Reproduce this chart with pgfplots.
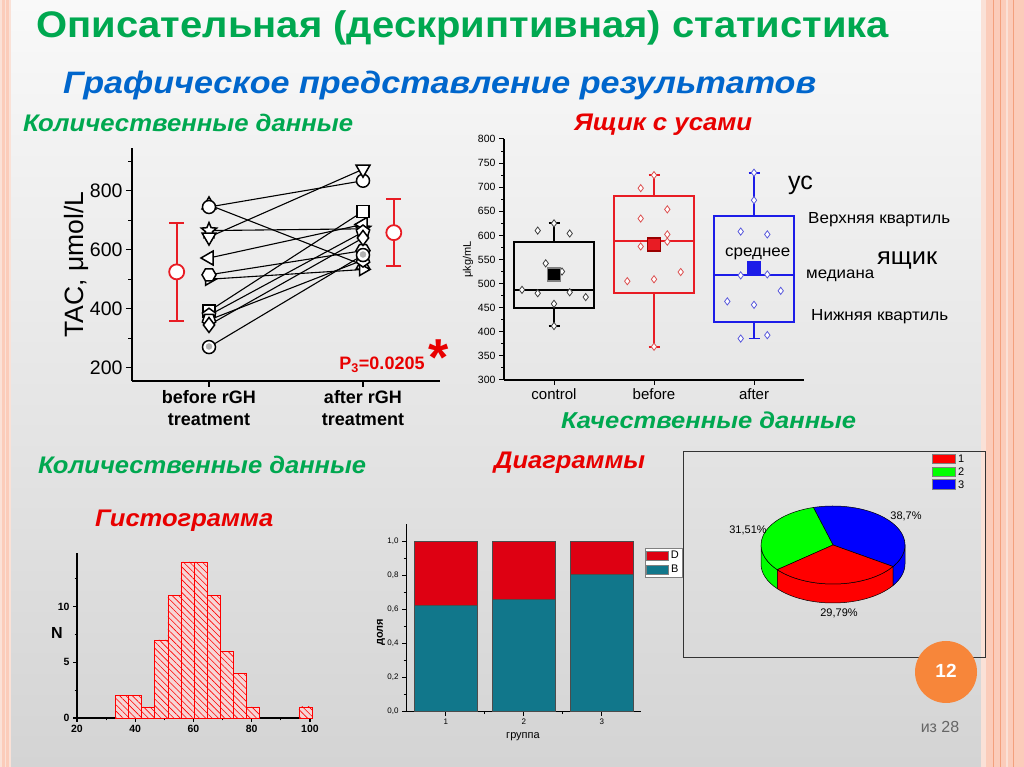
\documentclass[border=0pt]{standalone}
\usepackage{fontspec}
\setmainfont{Liberation Sans}
\usepackage{graphicx}
\usepackage{pgfplots}
\pgfplotsset{compat=1.18}
\usetikzlibrary{patterns.meta}

\definecolor{tgreen}{RGB}{0,168,80}
\definecolor{tblue}{RGB}{0,102,204}
\definecolor{tred}{RGB}{232,0,0}
\definecolor{bxred}{RGB}{232,28,36}
\definecolor{bxblue}{RGB}{28,28,232}
\definecolor{ptred}{RGB}{220,80,80}
\definecolor{ptblue}{RGB}{90,90,220}
\definecolor{barteal}{RGB}{17,119,139}
\definecolor{barred}{RGB}{222,0,18}
\definecolor{hpink}{RGB}{246,214,214}
\definecolor{salm}{RGB}{251,204,186}
\definecolor{salml}{RGB}{250,225,215}
\definecolor{salmd}{RGB}{243,160,125}
\definecolor{orng}{RGB}{247,134,58}
\definecolor{bgtop}{RGB}{249,249,249}
\definecolor{bgbot}{RGB}{212,212,212}
\definecolor{pgreen}{RGB}{0,255,0}
\definecolor{pred}{RGB}{255,0,0}
\definecolor{pblue}{RGB}{0,0,255}

\newsavebox\fitbox
\newcommand\fitto[2]{\sbox\fitbox{#2}\pgfmathsetmacro\fitr{#1/\the\wd\fitbox}\scalebox{\fitr}[1]{\usebox\fitbox}}
\newcommand\fs[1]{\fontsize{#1}{#1}\selectfont}

\pgfdeclareplotmark{ostar}{%
 \pgfpathmoveto{\pgfpointpolar{90}{\pgfplotmarksize}}%
 \pgfpathlineto{\pgfpointpolar{126}{0.45\pgfplotmarksize}}%
 \pgfpathlineto{\pgfpointpolar{162}{\pgfplotmarksize}}%
 \pgfpathlineto{\pgfpointpolar{198}{0.45\pgfplotmarksize}}%
 \pgfpathlineto{\pgfpointpolar{234}{\pgfplotmarksize}}%
 \pgfpathlineto{\pgfpointpolar{270}{0.45\pgfplotmarksize}}%
 \pgfpathlineto{\pgfpointpolar{306}{\pgfplotmarksize}}%
 \pgfpathlineto{\pgfpointpolar{342}{0.45\pgfplotmarksize}}%
 \pgfpathlineto{\pgfpointpolar{18}{\pgfplotmarksize}}%
 \pgfpathlineto{\pgfpointpolar{54}{0.45\pgfplotmarksize}}%
 \pgfpathclose\pgfusepathqfillstroke}
\pgfdeclareplotmark{hexa}{%
 \pgfpathmoveto{\pgfpointpolar{0}{\pgfplotmarksize}}%
 \pgfpathlineto{\pgfpointpolar{60}{\pgfplotmarksize}}%
 \pgfpathlineto{\pgfpointpolar{120}{\pgfplotmarksize}}%
 \pgfpathlineto{\pgfpointpolar{180}{\pgfplotmarksize}}%
 \pgfpathlineto{\pgfpointpolar{240}{\pgfplotmarksize}}%
 \pgfpathlineto{\pgfpointpolar{300}{\pgfplotmarksize}}%
 \pgfpathclose\pgfusepathqfillstroke}

\begin{document}
\begin{tikzpicture}
\begin{scope}[x=1pt,y=1pt]
\useasboundingbox (0,0) rectangle (1024,767);
\shade[top color=bgtop, bottom color=bgbot] (0,0) rectangle (1024,767);
\fill[salml] (0,0) rectangle (11,767);
\fill[salm] (2,0) rectangle (4.5,767);
\fill[salm] (6,0) rectangle (9,767);
\fill[salm] (981,0) rectangle (1024,767);
\fill[salml] (981,0) rectangle (986,767);
\draw[salmd, line width=1pt] (993,0) -- (993,767);
\draw[salmd, line width=0.6pt] (1000,0) -- (1000,767);
\draw[salml, line width=2pt] (1007,0) -- (1007,767);
\draw[salmd, line width=0.5pt] (1013,0) -- (1013,767);
\node[anchor=base west, inner sep=0pt, text=tgreen, font=\fs{37}\bfseries] at (36,729) {\fitto{853}{Описательная (дескриптивная) статистика}};
\node[anchor=base west, inner sep=0pt, text=tblue, font=\fs{31}\bfseries\itshape] at (63,673) {\fitto{753}{Графическое представление результатов}};
\node[anchor=base west, inner sep=0pt, text=tgreen, font=\fs{24}\bfseries\itshape] at (23,635) {\fitto{330}{Количественные данные}};
\node[anchor=base west, inner sep=0pt, text=tred, font=\fs{24}\bfseries\itshape] at (574,636) {\fitto{178}{Ящик с усами}};
\node[anchor=base west, inner sep=0pt, text=tgreen, font=\fs{23}\bfseries\itshape] at (561,338) {\fitto{295}{Качественные данные}};
\node[anchor=base west, inner sep=0pt, text=tgreen, font=\fs{24}\bfseries\itshape] at (38,293) {\fitto{328}{Количественные данные}};
\node[anchor=base west, inner sep=0pt, text=tred, font=\fs{24}\bfseries\itshape] at (494,298) {\fitto{151}{Диаграммы}};
\node[anchor=base west, inner sep=0pt, text=tred, font=\fs{24}\bfseries\itshape] at (95,240) {\fitto{178}{Гистограмма}};
\end{scope}

% ---------- paired plot ----------
\begin{axis}[at={(132pt,386pt)}, anchor=south west, scale only axis, width=308pt, height=233pt,
 xmin=0.5, xmax=2.5, ymin=155, ymax=945,
 axis lines*=left, axis line style={line width=1.4pt},
 xtick={1,2}, xticklabels={{before rGH\\treatment},{after rGH\\treatment}},
 xticklabel style={font=\fontsize{18}{22}\selectfont\bfseries, align=center},
 ytick={200,400,600,800}, minor ytick={300,500,700,900},
 tick align=outside, major tick length=6pt, minor tick length=4pt,
 tick style={black, line width=1.3pt},
 yticklabel style={font=\fs{19.5}},
 /pgf/number format/assume math mode=true,
 ylabel={TAC, μmol/L}, ylabel style={font=\fs{26.5}, at={(axis description cs:-0.18,0.5)}, anchor=center},
 clip=false]
\addplot[black, line width=1.1pt, mark=triangle*, mark size=8pt, mark options={fill=white, line width=1.5pt}] coordinates {(1,752) (2,548)};
\addplot[black, line width=1.1pt, mark=*, mark size=6.5pt, mark options={fill=white, line width=1.5pt}] coordinates {(1,745) (2,834)};
\addplot[black, line width=1.1pt, mark=ostar, mark size=8pt, mark options={fill=white, line width=1.5pt}] coordinates {(1,665) (2,671)};
\addplot[black, line width=1.1pt, mark=triangle*, mark size=8pt, mark options={fill=white, line width=1.5pt, rotate=180}] coordinates {(1,643) (2,873)};
\addplot[black, line width=1.1pt, mark=triangle*, mark size=8pt, mark options={fill=white, line width=1.5pt, rotate=90}] coordinates {(1,572) (2,686)};
\addplot[black, line width=1.1pt, mark=triangle*, mark size=7pt, mark options={fill=white, line width=1.5pt, rotate=-90}] coordinates {(1,500) (2,533)};
\addplot[black, line width=1.1pt, mark=hexa, mark size=7pt, mark options={fill=white, line width=1.5pt}] coordinates {(1,515) (2,597)};
\addplot[black, line width=1.1pt, mark=square*, mark size=6pt, mark options={fill=white, line width=1.5pt}] coordinates {(1,392) (2,730)};
\addplot[black, line width=1.1pt, mark=pentagon*, mark size=7pt, mark options={fill=white, line width=1.5pt}] coordinates {(1,378) (2,660)};
\addplot[black, line width=1.1pt, mark=pentagon*, mark size=7pt, mark options={fill=white, line width=1.5pt, rotate=180}] coordinates {(1,362) (2,565)};
\addplot[black, line width=1.1pt, mark=diamond*, mark size=7.5pt, mark options={fill=white, line width=1.5pt}] coordinates {(1,345) (2,640)};
\addplot[black, line width=1.1pt, mark=*, mark size=6.5pt, mark options={fill=white, line width=1.5pt}] coordinates {(1,270) (2,582)};
\addplot[only marks, mark=*, mark size=3pt, mark options={fill=gray!60, draw=gray!60}] coordinates {(1,272) (2,584)};
\addplot[bxred, draw=none, mark=none, error bars/.cd, y dir=both, y explicit,
  error bar style={line width=2pt, bxred}, error mark options={rotate=90, mark size=7.5pt, line width=2pt, bxred}]
  coordinates {(0.79,525) +- (0,165) (2.2,658) +- (0,114)};
\addplot[only marks, mark=*, mark size=7.5pt, mark options={fill=white, draw=bxred, line width=1.8pt}] coordinates {(0.79,525) (2.2,658)};
\end{axis}

% ---------- box plot ----------
\begin{axis}[at={(504pt,387pt)}, anchor=south west, scale only axis, width=300pt, height=241pt,
 xmin=0.5, xmax=3.5, ymin=300, ymax=800,
 axis lines*=left, axis line style={line width=1.3pt},
 xtick={1,2,3}, xticklabels={control,before,after}, xticklabel style={font=\fs{15}},
 ytick={300,350,400,450,500,550,600,650,700,750,800}, minor ytick={325,375,425,475,525,575,625,675,725,775},
 yticklabel style={font=\fs{10.5}},
 tick align=outside, major tick length=5pt, minor tick length=3pt, tick style={black, line width=1pt},
 ylabel={μkg/mL}, ylabel style={font=\fs{11}, at={(axis description cs:-0.12,0.5)}, anchor=center},
 /pgf/number format/assume math mode=true, unbounded coords=jump, clip=false]
\addplot[black, line width=1.8pt, mark=none] coordinates {
 (1,449) (1.4,449) (1.4,587) (0.6,587) (0.6,449) (1,449) (nan,nan)
 (0.6,487) (1.4,487) (nan,nan) (1,587) (1,625) (nan,nan) (1,449) (1,412) (nan,nan)
 (0.945,625) (1.055,625) (nan,nan) (0.945,412) (1.055,412)};
\addplot[bxred, line width=1.8pt, mark=none] coordinates {
 (2,480) (2.4,480) (2.4,682) (1.6,682) (1.6,480) (2,480) (nan,nan)
 (1.6,588) (2.4,588) (nan,nan) (2,682) (2,725) (nan,nan) (2,480) (2,369) (nan,nan)
 (1.945,725) (2.055,725) (nan,nan) (1.945,369) (2.055,369)};
\addplot[bxblue, line width=1.8pt, mark=none] coordinates {
 (3,420) (3.4,420) (3.4,641) (2.6,641) (2.6,420) (3,420) (nan,nan)
 (2.6,517) (3.4,517) (nan,nan) (3,641) (3,730) (nan,nan) (3,420) (3,386) (nan,nan)
 (2.945,730) (3.055,730) (nan,nan) (2.945,386) (3.055,386)};
\addplot[only marks, mark=diamond*, mark size=3.6pt, mark options={fill=white, draw=black!75, line width=0.8pt}] coordinates {
(0.837,610) (1.157,604) (0.917,542) (1.08,525) (0.68,487) (0.837,480) (1.157,482) (1.317,472) (1,458) (1,625) (1,412)};
\addplot[only marks, mark=diamond*, mark size=3.6pt, mark options={fill=white, draw=ptred, line width=0.8pt}] coordinates {
(1.867,698) (1.867,635) (2.133,654) (2.133,602) (2.133,587) (1.867,577) (2.267,524) (1.733,505) (2,509) (2,725) (2,369)};
\addplot[only marks, mark=diamond*, mark size=3.6pt, mark options={fill=white, draw=ptblue, line width=0.8pt}] coordinates {
(3,730) (3,673) (2.867,608) (3.133,602) (2.867,517) (3.133,519) (3.267,485) (2.733,463) (3,456) (2.867,386) (3.133,393)};
\addplot[only marks, mark=square*, mark size=6.5pt, mark options={fill=black, draw=gray, line width=1.2pt}] coordinates {(1,519)};
\addplot[only marks, mark=square*, mark size=6.5pt, mark options={fill=bxred, draw=red!60!black, line width=1.2pt}] coordinates {(2,581)};
\addplot[only marks, mark=square*, mark size=6.5pt, mark options={fill=bxblue, draw=bxblue, line width=1.2pt}] coordinates {(3,533)};
\end{axis}

% ---------- histogram ----------
\begin{axis}[at={(77pt,49pt)}, anchor=south west, scale only axis, width=235pt, height=165pt,
 xmin=20, xmax=100.7, ymin=0, ymax=14.8,
 axis lines*=left, axis line style={line width=1.8pt},
 xtick={20,40,60,80,100}, minor xtick={30,50,70,90}, ytick={0,5,10}, minor ytick={2.5,7.5,12.5},
 tick align=outside, major tick length=4pt, minor tick length=2.5pt, tick style={black, line width=1.2pt},
 ticklabel style={font=\fs{10.5}\bfseries},
 /pgf/number format/assume math mode=true,
 ylabel={N}, ylabel style={rotate=-90, font=\fs{16}\bfseries, at={(axis description cs:-0.086,0.515)}, anchor=center},
 clip=false]
\addplot[ybar interval, draw=red, line width=0.6pt, fill=hpink,
  postaction={pattern={Lines[angle=-45,distance=4.5pt,line width=0.6pt]}, pattern color=red}]
  coordinates {(33.2,2) (37.7,2) (42.2,1) (46.7,7) (51.2,11) (55.7,14) (60.2,14) (64.7,11) (69.2,6) (73.7,4) (78.2,1) (82.7,1)};
\addplot[ybar interval, draw=red, line width=0.6pt, fill=hpink,
  postaction={pattern={Lines[angle=-45,distance=4.5pt,line width=0.6pt]}, pattern color=red}]
  coordinates {(96.2,1) (100.7,1)};
\end{axis}

% ---------- stacked bars ----------
\begin{axis}[at={(406pt,55.3pt)}, anchor=south west, scale only axis, width=234.7pt, height=187.7pt,
 xmin=0.49, xmax=3.5, ymin=0, ymax=1.1, ybar stacked, bar width=0.8,
 axis lines*=left, axis line style={line width=1pt},
 xtick={1,2,3}, minor xtick={1.5,2.5}, ytick={0,0.2,0.4,0.6,0.8,1}, minor ytick={0.1,0.3,0.5,0.7,0.9},
 tick align=outside, major tick length=4pt, minor tick length=2.5pt, tick style={black, line width=0.8pt},
 ticklabel style={font=\fs{8}},
 yticklabel style={/pgf/number format/fixed, /pgf/number format/fixed zerofill, /pgf/number format/precision=1, /pgf/number format/use comma},
 /pgf/number format/assume math mode=true,
 xlabel={группа}, xlabel style={font=\fs{11}, at={(axis description cs:0.4985,-0.135)}, anchor=center},
 ylabel={доля}, ylabel style={font=\fs{11}\bfseries, at={(axis description cs:-0.107,0.424)}, anchor=center},
 legend style={at={(axis description cs:1.018,0.872)}, anchor=north west, draw=gray, font=\fs{11}, inner sep=1pt, row sep=1pt},
 legend image code/.code={\draw[#1, draw=gray] (0pt,-4.5pt) rectangle (22pt,4.5pt);},
 reverse legend, clip=false]
\addplot[fill=barteal, draw=black!70, line width=0.7pt] coordinates {(1,0.621) (2,0.658) (3,0.805)};
\addlegendentry{B}
\addplot[fill=barred, draw=black!70, line width=0.7pt] coordinates {(1,0.379) (2,0.342) (3,0.195)};
\addlegendentry{D}
\end{axis}

% ---------- pie ----------
\pgfmathsetmacro\aS{-33.5}
\pgfmathsetmacro\aB{\aS+38.7*3.6}
\pgfmathsetmacro\aG{\aB+31.51*3.6}
\pgfmathsetmacro\aR{\aG+29.79*3.6}
\begin{axis}[at={(833pt,222pt)}, anchor=origin, scale only axis, width=144pt, height=78pt,
 xmin=-1, xmax=1, ymin=-1, ymax=1, hide axis, clip=false]
\filldraw[fill=pgreen, draw=black, line width=0.5pt] (axis cs:0,0) ++(canvas polar cs:angle=180, x radius=72pt, y radius=39pt)
  arc[start angle=180, end angle=\aG, x radius=72pt, y radius=39pt] -- ++(0pt,-19pt)
  arc[start angle=\aG, end angle=180, x radius=72pt, y radius=39pt] -- cycle;
\filldraw[fill=pred, draw=black, line width=0.5pt] (axis cs:0,0) ++(canvas polar cs:angle=\aG, x radius=72pt, y radius=39pt)
  arc[start angle=\aG, end angle=\aR, x radius=72pt, y radius=39pt] -- ++(0pt,-19pt)
  arc[start angle=\aR, end angle=\aG, x radius=72pt, y radius=39pt] -- cycle;
\filldraw[fill=pblue, draw=black, line width=0.5pt] (axis cs:0,0) ++(canvas polar cs:angle=\aR, x radius=72pt, y radius=39pt)
  arc[start angle=\aR, end angle=360, x radius=72pt, y radius=39pt] -- ++(0pt,-19pt)
  arc[start angle=360, end angle=\aR, x radius=72pt, y radius=39pt] -- cycle;
\filldraw[fill=pblue, draw=black, line width=0.5pt] (axis cs:0,0) -- ++(canvas polar cs:angle=\aS, x radius=72pt, y radius=39pt)
  arc[start angle=\aS, end angle=\aB, x radius=72pt, y radius=39pt] -- cycle;
\filldraw[fill=pgreen, draw=black, line width=0.5pt] (axis cs:0,0) -- ++(canvas polar cs:angle=\aB, x radius=72pt, y radius=39pt)
  arc[start angle=\aB, end angle=\aG, x radius=72pt, y radius=39pt] -- cycle;
\filldraw[fill=pred, draw=black, line width=0.5pt] (axis cs:0,0) -- ++(canvas polar cs:angle=\aG, x radius=72pt, y radius=39pt)
  arc[start angle=\aG, end angle=\aR, x radius=72pt, y radius=39pt] -- cycle;
\end{axis}

\begin{scope}[x=1pt,y=1pt]
\node[anchor=center, text=tred, font=\fs{18}\bfseries] at (382,402) {P\textsubscript{3}=0.0205};
\node[anchor=base, inner sep=0pt, text=tred, font=\fs{52}\bfseries] at (439,391) {*};
\node[anchor=base west, inner sep=0pt, font=\fs{25}] at (788,577) {ус};
\node[anchor=base west, inner sep=0pt, font=\fs{16}] at (808,543) {\fitto{142}{Верхняя квартиль}};
\node[anchor=base west, inner sep=0pt, font=\fs{16}] at (725,510) {\fitto{65}{среднее}};
\node[anchor=base west, inner sep=0pt, font=\fs{24}] at (877,502) {\fitto{60}{ящик}};
\node[anchor=base west, inner sep=0pt, font=\fs{16}] at (806,488) {\fitto{68}{медиана}};
\node[anchor=base west, inner sep=0pt, font=\fs{16}] at (811,446) {\fitto{137}{Нижняя квартиль}};
\draw[black!80, line width=0.8pt] (683,110) rectangle (985,315.3);
\node[font=\fs{11}] at (906,251) {38,7\%};
\node[font=\fs{11}] at (748,237) {31,51\%};
\node[font=\fs{11}] at (839,154) {29,79\%};
\foreach \yy/\cc/\tt in {308/pred/1, 295.3/pgreen/2, 282.7/pblue/3}{
  \filldraw[fill=\cc, draw=gray, line width=0.6pt] (932,\yy-4.8) rectangle (955,\yy+4.8);
  \node[anchor=west, inner sep=0pt, font=\fs{11}] at (958,\yy) {\tt};
}
\fill[orng] (946,95) circle[radius=31pt];
\node[text=white, font=\fs{19}\bfseries] at (946,96) {12};
\node[text=black!60, font=\fs{16}] at (940,40) {из 28};
\end{scope}
\end{tikzpicture}
\end{document}
